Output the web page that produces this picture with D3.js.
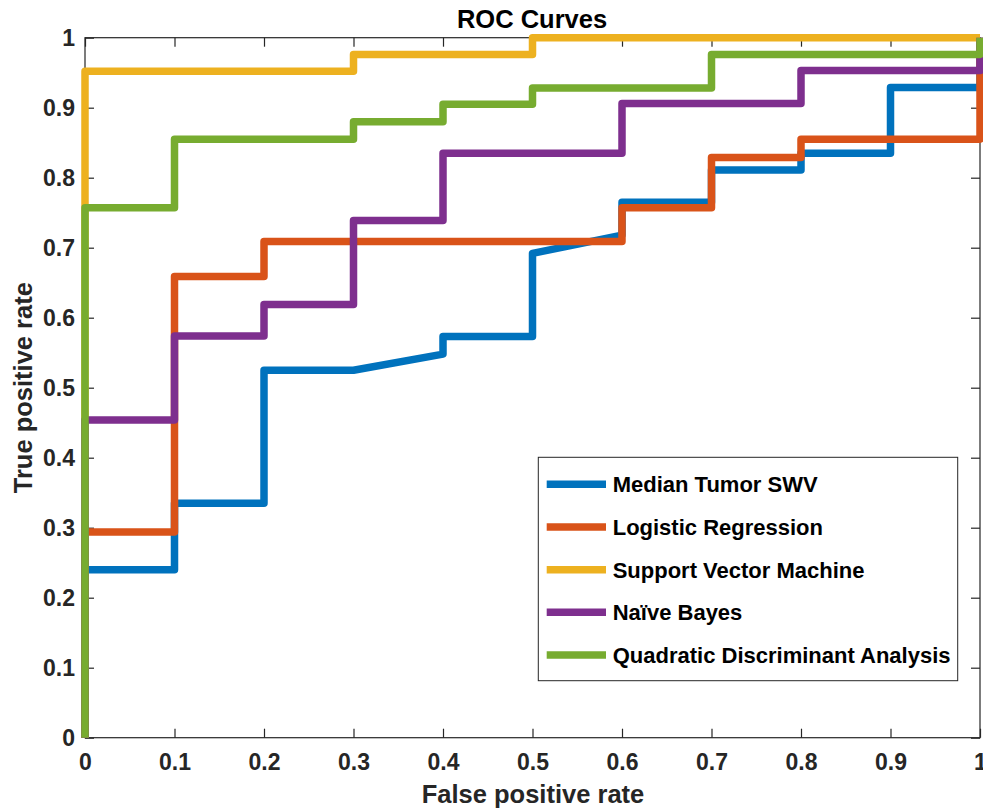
<!DOCTYPE html>
<meta charset="utf-8">

<script src="https://d3js.org/d3.v7.min.js"></script>

<style>
  body { margin: 0; background: white; }
  text { font-family: "Liberation Sans", Arial, Helvetica, sans-serif; font-weight: bold; }
</style>

<div id="roc"></div>

<script>

// legend names, in plotting order
var methods = ["Median Tumor SWV", "Logistic Regression", "Support Vector Machine", "Na\u00efve Bayes", "Quadratic Discriminant Analysis"];
var colors = ["#0072BD", "#D95319", "#EDB120", "#7E2F8E", "#77AC30"];

// curve points (false positive rate, true positive rate)
var fprSWV = [0, 0, 0.1, 0.1, 0.2, 0.2, 0.3, 0.4, 0.4, 0.5, 0.5, 0.6, 0.6, 0.7, 0.7, 0.8, 0.8, 0.9, 0.9, 1, 1];
var tprSWV = [0, 0.24, 0.24, 0.335, 0.335, 0.525, 0.525, 0.548, 0.573, 0.573, 0.692, 0.718, 0.765, 0.765, 0.811, 0.811, 0.835, 0.835, 0.929, 0.929, 1];

var fprLR = [0, 0, 0.1, 0.1, 0.2, 0.2, 0.6, 0.6, 0.7, 0.7, 0.8, 0.8, 1, 1];
var tprLR = [0, 0.294, 0.294, 0.659, 0.659, 0.709, 0.709, 0.757, 0.757, 0.829, 0.829, 0.855, 0.855, 1];

var fprSVM = [0, 0, 0.3, 0.3, 0.5, 0.5, 1];
var tprSVM = [0, 0.952, 0.952, 0.976, 0.976, 1, 1];

var fprNB = [0, 0, 0.1, 0.1, 0.2, 0.2, 0.3, 0.3, 0.4, 0.4, 0.6, 0.6, 0.8, 0.8, 1, 1];
var tprNB = [0, 0.454, 0.454, 0.574, 0.574, 0.619, 0.619, 0.739, 0.739, 0.835, 0.835, 0.906, 0.906, 0.953, 0.953, 1];

var fprQDA = [0, 0, 0.1, 0.1, 0.3, 0.3, 0.4, 0.4, 0.5, 0.5, 0.7, 0.7, 1, 1];
var tprQDA = [0, 0.757, 0.757, 0.855, 0.855, 0.88, 0.88, 0.905, 0.905, 0.928, 0.928, 0.976, 0.976, 1];

var xTicks = [0, 0.1, 0.2, 0.3, 0.4, 0.5, 0.6, 0.7, 0.8, 0.9, 1];
var yTicks = [0, 0.1, 0.2, 0.3, 0.4, 0.5, 0.6, 0.7, 0.8, 0.9, 1];

var curves = [
  { fpr: fprSWV, tpr: tprSWV },
  { fpr: fprLR, tpr: tprLR },
  { fpr: fprSVM, tpr: tprSVM },
  { fpr: fprNB, tpr: tprNB },
  { fpr: fprQDA, tpr: tprQDA }
];

var W = 983, H = 809;
var plotLeft = 85, plotRight = 980, plotTop = 37.7, plotBottom = 737.7;

var svg = d3.select("#roc")
  .append("svg")
    .attr("width", W)
    .attr("height", H);

svg.append("rect").attr("width", W).attr("height", H).attr("fill", "white");

var x = d3.scaleLinear().domain([0, 1]).range([plotLeft, plotRight]);
var y = d3.scaleLinear().domain([0, 1]).range([plotBottom, plotTop]);

var fmt = function(d) { return d === 0 ? "0" : d === 1 ? "1" : d3.format(".1f")(d); };

// box
svg.append("rect")
  .attr("x", plotLeft).attr("y", plotTop)
  .attr("width", plotRight - plotLeft).attr("height", plotBottom - plotTop)
  .attr("fill", "none")
  .attr("stroke", "#262626")
  .attr("stroke-width", 1.2);

// axes with inward ticks
function styleAxis(g) {
  g.select(".domain").remove();
  g.selectAll(".tick line").attr("stroke", "#262626").attr("stroke-width", 1.2);
  g.selectAll(".tick text")
    .attr("fill", "#262626")
    .style("font-size", "23px")
    .style("font-family", "'Liberation Sans', Arial, sans-serif")
    .style("font-weight", "bold");
}

svg.append("g")
  .attr("transform", "translate(0," + plotBottom + ")")
  .call(d3.axisBottom(x).tickValues(xTicks).tickSize(-9).tickSizeOuter(0).tickPadding(16).tickFormat(fmt))
  .call(styleAxis);

svg.append("g")
  .attr("transform", "translate(0," + plotTop + ")")
  .call(d3.axisTop(x).tickValues(xTicks).tickSize(-9).tickSizeOuter(0).tickFormat(""))
  .call(styleAxis);

svg.append("g")
  .attr("transform", "translate(" + plotLeft + ",0)")
  .call(d3.axisLeft(y).tickValues(yTicks).tickSize(-9).tickSizeOuter(0).tickPadding(10).tickFormat(fmt))
  .call(styleAxis);

svg.append("g")
  .attr("transform", "translate(" + plotRight + ",0)")
  .call(d3.axisRight(y).tickValues(yTicks).tickSize(-9).tickSizeOuter(0).tickFormat(""))
  .call(styleAxis);

// curves
var line = d3.line()
  .x(function(d) { return x(d[0]); })
  .y(function(d) { return y(d[1]); });

svg.selectAll(".curve")
  .data(curves)
  .enter()
  .append("path")
    .attr("class", "curve")
    .attr("d", function(c) { return line(d3.zip(c.fpr, c.tpr)); })
    .attr("fill", "none")
    .attr("stroke", function(c, i) { return colors[i]; })
    .attr("stroke-width", 7.5)
    .attr("stroke-linejoin", "round");

// titles
svg.append("text")
  .attr("x", 532).attr("y", 28)
  .attr("text-anchor", "middle")
  .style("font-size", "25.5px")
  .attr("fill", "#000")
  .text("ROC Curves");

svg.append("text")
  .attr("x", 533).attr("y", 803)
  .attr("text-anchor", "middle")
  .style("font-size", "25.5px")
  .attr("fill", "#262626")
  .text("False positive rate");

svg.append("text")
  .attr("transform", "translate(31.5," + ((plotTop + plotBottom) / 2) + ") rotate(-90)")
  .attr("text-anchor", "middle")
  .style("font-size", "25.5px")
  .attr("fill", "#262626")
  .text("True positive rate");

// legend
var legend = svg.append("g");

legend.append("rect")
  .attr("x", 538.3).attr("y", 457.3)
  .attr("width", 419.4).attr("height", 223.4)
  .attr("fill", "white")
  .attr("stroke", "#262626")
  .attr("stroke-width", 1);

var rowY = d3.scalePoint().domain(methods).range([484.3, 655]);

var items = legend.selectAll(".item")
  .data(methods)
  .enter()
  .append("g")
    .attr("class", "item")
    .attr("transform", function(d) { return "translate(0," + rowY(d) + ")"; });

items.append("line")
  .attr("x1", 546.7).attr("x2", 606)
  .attr("stroke", function(d, i) { return colors[i]; })
  .attr("stroke-width", 7.5);

items.append("text")
  .attr("x", 612.7)
  .attr("dy", "0.36em")
  .style("font-size", "22px")
  .attr("fill", "#000")
  .text(function(d) { return d; });

</script>
